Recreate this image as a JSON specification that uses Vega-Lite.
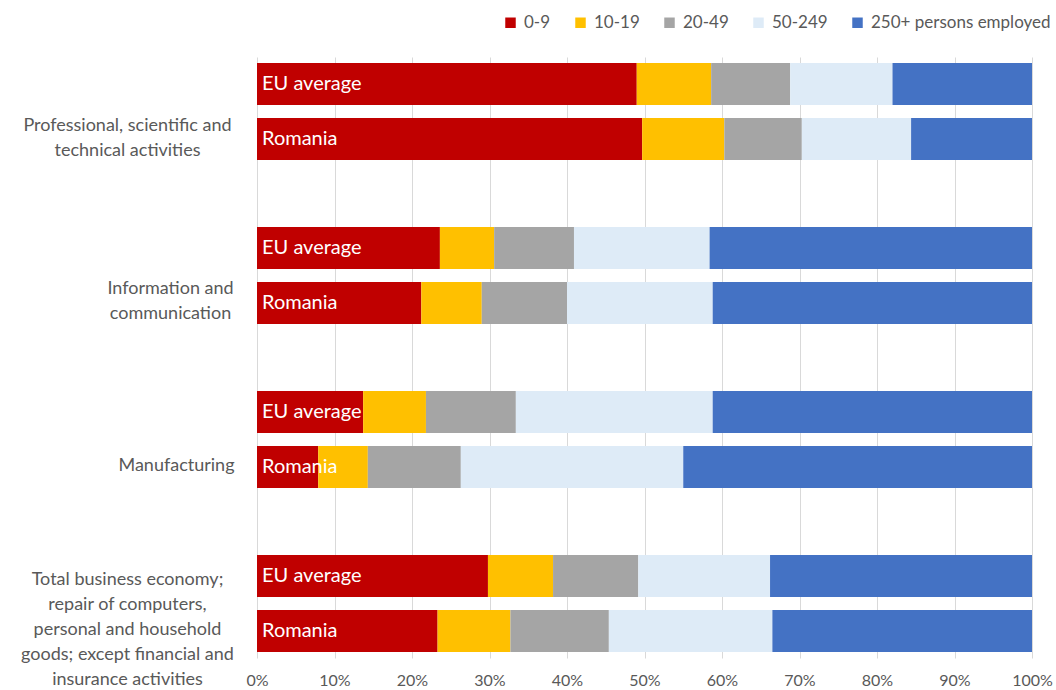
{
  "$schema": "https://vega.github.io/schema/vega-lite/v6.json",
  "width": 775,
  "height": 601,
  "autosize": {"type": "none"},
  "padding": {"left": 257, "top": 57, "right": 24, "bottom": 32},
  "background": "white",
  "config": {"font": "Lato", "view": {"stroke": null}},
  "data": {
    "values": [
      {"sector": "Professional, scientific and|technical activities", "region": "EU average", "size": "0-9", "k": 1, "share": 0.490},
      {"sector": "Professional, scientific and|technical activities", "region": "EU average", "size": "10-19", "k": 2, "share": 0.096},
      {"sector": "Professional, scientific and|technical activities", "region": "EU average", "size": "20-49", "k": 3, "share": 0.102},
      {"sector": "Professional, scientific and|technical activities", "region": "EU average", "size": "50-249", "k": 4, "share": 0.132},
      {"sector": "Professional, scientific and|technical activities", "region": "EU average", "size": "250+ persons employed", "k": 5, "share": 0.180},
      {"sector": "Professional, scientific and|technical activities", "region": "Romania", "size": "0-9", "k": 1, "share": 0.497},
      {"sector": "Professional, scientific and|technical activities", "region": "Romania", "size": "10-19", "k": 2, "share": 0.106},
      {"sector": "Professional, scientific and|technical activities", "region": "Romania", "size": "20-49", "k": 3, "share": 0.100},
      {"sector": "Professional, scientific and|technical activities", "region": "Romania", "size": "50-249", "k": 4, "share": 0.141},
      {"sector": "Professional, scientific and|technical activities", "region": "Romania", "size": "250+ persons employed", "k": 5, "share": 0.156},
      {"sector": "Information and|communication", "region": "EU average", "size": "0-9", "k": 1, "share": 0.236},
      {"sector": "Information and|communication", "region": "EU average", "size": "10-19", "k": 2, "share": 0.070},
      {"sector": "Information and|communication", "region": "EU average", "size": "20-49", "k": 3, "share": 0.103},
      {"sector": "Information and|communication", "region": "EU average", "size": "50-249", "k": 4, "share": 0.175},
      {"sector": "Information and|communication", "region": "EU average", "size": "250+ persons employed", "k": 5, "share": 0.416},
      {"sector": "Information and|communication", "region": "Romania", "size": "0-9", "k": 1, "share": 0.212},
      {"sector": "Information and|communication", "region": "Romania", "size": "10-19", "k": 2, "share": 0.078},
      {"sector": "Information and|communication", "region": "Romania", "size": "20-49", "k": 3, "share": 0.110},
      {"sector": "Information and|communication", "region": "Romania", "size": "50-249", "k": 4, "share": 0.188},
      {"sector": "Information and|communication", "region": "Romania", "size": "250+ persons employed", "k": 5, "share": 0.412},
      {"sector": "Manufacturing", "region": "EU average", "size": "0-9", "k": 1, "share": 0.137},
      {"sector": "Manufacturing", "region": "EU average", "size": "10-19", "k": 2, "share": 0.081},
      {"sector": "Manufacturing", "region": "EU average", "size": "20-49", "k": 3, "share": 0.116},
      {"sector": "Manufacturing", "region": "EU average", "size": "50-249", "k": 4, "share": 0.254},
      {"sector": "Manufacturing", "region": "EU average", "size": "250+ persons employed", "k": 5, "share": 0.412},
      {"sector": "Manufacturing", "region": "Romania", "size": "0-9", "k": 1, "share": 0.079},
      {"sector": "Manufacturing", "region": "Romania", "size": "10-19", "k": 2, "share": 0.064},
      {"sector": "Manufacturing", "region": "Romania", "size": "20-49", "k": 3, "share": 0.120},
      {"sector": "Manufacturing", "region": "Romania", "size": "50-249", "k": 4, "share": 0.287},
      {"sector": "Manufacturing", "region": "Romania", "size": "250+ persons employed", "k": 5, "share": 0.450},
      {"sector": "Total business economy;|repair of computers,|personal and household|goods; except financial and|insurance activities", "region": "EU average", "size": "0-9", "k": 1, "share": 0.298},
      {"sector": "Total business economy;|repair of computers,|personal and household|goods; except financial and|insurance activities", "region": "EU average", "size": "10-19", "k": 2, "share": 0.084},
      {"sector": "Total business economy;|repair of computers,|personal and household|goods; except financial and|insurance activities", "region": "EU average", "size": "20-49", "k": 3, "share": 0.110},
      {"sector": "Total business economy;|repair of computers,|personal and household|goods; except financial and|insurance activities", "region": "EU average", "size": "50-249", "k": 4, "share": 0.170},
      {"sector": "Total business economy;|repair of computers,|personal and household|goods; except financial and|insurance activities", "region": "EU average", "size": "250+ persons employed", "k": 5, "share": 0.338},
      {"sector": "Total business economy;|repair of computers,|personal and household|goods; except financial and|insurance activities", "region": "Romania", "size": "0-9", "k": 1, "share": 0.233},
      {"sector": "Total business economy;|repair of computers,|personal and household|goods; except financial and|insurance activities", "region": "Romania", "size": "10-19", "k": 2, "share": 0.094},
      {"sector": "Total business economy;|repair of computers,|personal and household|goods; except financial and|insurance activities", "region": "Romania", "size": "20-49", "k": 3, "share": 0.127},
      {"sector": "Total business economy;|repair of computers,|personal and household|goods; except financial and|insurance activities", "region": "Romania", "size": "50-249", "k": 4, "share": 0.211},
      {"sector": "Total business economy;|repair of computers,|personal and household|goods; except financial and|insurance activities", "region": "Romania", "size": "250+ persons employed", "k": 5, "share": 0.335}
    ]
  },
  "encoding": {
    "y": {
      "field": "sector",
      "type": "nominal",
      "sort": null,
      "scale": {"paddingInner": 0.335, "paddingOuter": 0},
      "axis": {
        "title": null,
        "ticks": false,
        "domain": false,
        "grid": false,
        "labelAlign": "center",
        "labelBaseline": "middle",
        "labelPadding": {"condition": [
          {"test": "indexof(datum.value, 'Information') == 0", "value": 87},
          {"test": "datum.value == 'Manufacturing'", "value": 81}
        ], "value": 130},
        "labelOffset": {"condition": [
          {"test": "indexof(datum.value, 'Total') == 0", "value": -23},
          {"test": "datum.value == 'Manufacturing'", "value": 27},
          {"test": "indexof(datum.value, 'Information') == 0", "value": 13}
        ], "value": 14},
        "labelColor": "#595959",
        "labelFontSize": 18,
        "labelLineHeight": 25,
        "labelLimit": 0,
        "labelExpr": "split(datum.label, '|')"
      }
    },
    "yOffset": {
      "field": "region",
      "type": "nominal",
      "sort": ["EU average", "Romania"],
      "scale": {"paddingInner": 0.236, "paddingOuter": 0.109}
    }
  },
  "layer": [
    {
      "mark": {"type": "bar"},
      "encoding": {
        "x": {
          "field": "share",
          "type": "quantitative",
          "stack": "zero",
          "scale": {"domain": [0, 1], "nice": false},
          "axis": {
            "title": null,
            "values": [0, 0.1, 0.2, 0.3, 0.4, 0.5, 0.6, 0.7, 0.8, 0.9, 1],
            "format": ".0%",
            "ticks": false,
            "domain": false,
            "grid": true,
            "gridColor": "#D9D9D9",
            "gridWidth": 1,
            "labelColor": "#595959",
            "labelFontSize": 16,
            "labelPadding": 14,
            "labelFlush": false
          }
        },
        "color": {
          "field": "size",
          "type": "nominal",
          "scale": {
            "domain": ["0-9", "10-19", "20-49", "50-249", "250+ persons employed"],
            "range": ["#C00000", "#FFC000", "#A5A5A5", "#DEEBF7", "#4472C4"]
          },
          "legend": {
            "title": null,
            "orient": "none",
            "direction": "horizontal",
            "legendX": 245,
            "legendY": -43,
            "symbolType": "square",
            "symbolSize": 110,
            "symbolStrokeWidth": 0,
            "labelColor": "#595959",
            "labelFontSize": 17,
            "labelOffset": 5,
            "columnPadding": 21,
            "labelLimit": 0
          }
        },
        "order": {"field": "k", "type": "quantitative"}
      }
    },
    {
      "transform": [{"filter": "datum.k == 1"}],
      "mark": {"type": "text", "align": "left", "baseline": "middle", "dx": 5, "color": "white", "fontSize": 20},
      "encoding": {
        "x": {"datum": 0, "type": "quantitative"},
        "text": {"field": "region", "type": "nominal"}
      }
    }
  ]
}
